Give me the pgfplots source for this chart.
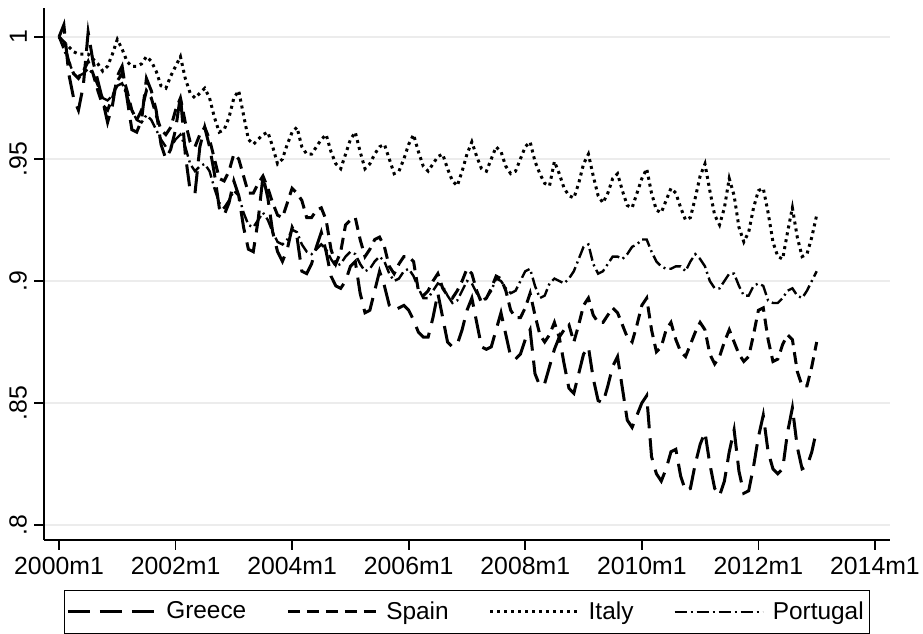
\documentclass[border=0pt]{standalone}
\usepackage{fontspec}
\setmainfont{Liberation Sans}
\usepackage{pgfplots}
\usepackage{pgfplotstable}
\pgfplotsset{compat=1.18}

% m = months since 2000m1
\pgfplotstableread{
m gr sp it pt
0 1.000 1.000 1.000 1.000
1 1.005 0.998 0.998 0.995
2 0.985 0.990 0.996 0.990
3 0.975 0.985 0.994 0.985
4 0.970 0.983 0.993 0.984
5 0.980 0.986 0.993 0.985
6 1.002 0.990 0.993 0.987
7 0.990 0.985 0.991 0.985
8 0.982 0.978 0.989 0.980
9 0.974 0.972 0.986 0.975
10 0.965 0.970 0.988 0.974
11 0.972 0.975 0.993 0.976
12 0.984 0.982 0.999 0.980
13 0.988 0.985 0.995 0.981
14 0.975 0.978 0.990 0.976
15 0.962 0.970 0.988 0.970
16 0.961 0.966 0.988 0.966
17 0.966 0.970 0.989 0.965
18 0.983 0.978 0.992 0.968
19 0.978 0.975 0.990 0.966
20 0.970 0.968 0.986 0.962
21 0.956 0.962 0.980 0.958
22 0.950 0.960 0.979 0.955
23 0.954 0.963 0.984 0.955
24 0.962 0.970 0.988 0.958
25 0.976 0.975 0.992 0.960
26 0.952 0.965 0.983 0.955
27 0.937 0.957 0.977 0.948
28 0.936 0.955 0.975 0.945
29 0.955 0.960 0.977 0.947
30 0.963 0.963 0.979 0.948
31 0.955 0.958 0.975 0.945
32 0.944 0.950 0.967 0.938
33 0.930 0.942 0.961 0.932
34 0.927 0.941 0.962 0.930
35 0.932 0.945 0.967 0.933
36 0.941 0.952 0.975 0.937
37 0.935 0.950 0.978 0.935
38 0.922 0.943 0.968 0.928
39 0.913 0.936 0.958 0.923
40 0.912 0.936 0.956 0.922
41 0.925 0.940 0.958 0.925
42 0.943 0.943 0.960 0.928
43 0.934 0.938 0.961 0.925
44 0.920 0.932 0.955 0.920
45 0.912 0.927 0.948 0.916
46 0.908 0.926 0.950 0.915
47 0.913 0.932 0.956 0.917
48 0.922 0.938 0.961 0.921
49 0.918 0.936 0.963 0.920
50 0.904 0.933 0.955 0.915
51 0.903 0.926 0.952 0.912
52 0.907 0.926 0.952 0.911
53 0.914 0.929 0.955 0.913
54 0.920 0.930 0.958 0.915
55 0.912 0.925 0.960 0.913
56 0.902 0.913 0.953 0.909
57 0.898 0.907 0.948 0.906
58 0.897 0.912 0.946 0.907
59 0.900 0.923 0.952 0.910
60 0.906 0.925 0.958 0.912
61 0.908 0.926 0.961 0.911
62 0.895 0.917 0.953 0.907
63 0.887 0.910 0.946 0.904
64 0.888 0.913 0.948 0.905
65 0.896 0.917 0.952 0.908
66 0.904 0.918 0.955 0.910
67 0.898 0.914 0.956 0.908
68 0.890 0.906 0.950 0.903
69 0.888 0.903 0.944 0.900
70 0.889 0.907 0.945 0.901
71 0.890 0.910 0.950 0.904
72 0.888 0.910 0.956 0.905
73 0.884 0.908 0.960 0.902
74 0.879 0.896 0.953 0.897
75 0.877 0.894 0.947 0.893
76 0.877 0.896 0.945 0.893
77 0.885 0.900 0.948 0.896
78 0.895 0.903 0.951 0.899
79 0.885 0.897 0.952 0.898
80 0.875 0.894 0.946 0.894
81 0.873 0.893 0.941 0.891
82 0.874 0.896 0.939 0.892
83 0.880 0.900 0.945 0.896
84 0.888 0.905 0.952 0.900
85 0.893 0.903 0.957 0.899
86 0.883 0.896 0.951 0.895
87 0.873 0.891 0.946 0.892
88 0.872 0.893 0.945 0.893
89 0.873 0.897 0.950 0.896
90 0.880 0.902 0.955 0.901
91 0.887 0.901 0.953 0.900
92 0.878 0.896 0.947 0.897
93 0.869 0.888 0.944 0.895
94 0.868 0.885 0.945 0.896
95 0.870 0.885 0.950 0.900
96 0.876 0.889 0.955 0.904
97 0.880 0.895 0.957 0.905
98 0.862 0.886 0.949 0.898
99 0.857 0.878 0.944 0.893
100 0.858 0.875 0.940 0.894
101 0.865 0.878 0.939 0.899
102 0.872 0.883 0.949 0.901
103 0.877 0.877 0.944 0.900
104 0.866 0.880 0.938 0.899
105 0.856 0.882 0.935 0.901
106 0.854 0.875 0.934 0.904
107 0.862 0.882 0.940 0.909
108 0.870 0.890 0.948 0.914
109 0.873 0.893 0.952 0.915
110 0.860 0.886 0.943 0.907
111 0.851 0.883 0.935 0.903
112 0.850 0.883 0.932 0.904
113 0.857 0.886 0.936 0.907
114 0.865 0.889 0.942 0.910
115 0.869 0.887 0.944 0.910
116 0.856 0.882 0.937 0.909
117 0.843 0.877 0.931 0.911
118 0.840 0.875 0.930 0.914
119 0.845 0.882 0.936 0.915
120 0.850 0.890 0.942 0.917
121 0.853 0.893 0.946 0.917
122 0.828 0.880 0.936 0.912
123 0.821 0.871 0.929 0.908
124 0.818 0.873 0.928 0.906
125 0.823 0.880 0.933 0.905
126 0.830 0.883 0.938 0.905
127 0.831 0.876 0.936 0.906
128 0.820 0.871 0.930 0.906
129 0.814 0.869 0.925 0.904
130 0.815 0.874 0.926 0.908
131 0.825 0.879 0.934 0.911
132 0.833 0.883 0.943 0.909
133 0.838 0.880 0.948 0.906
134 0.825 0.870 0.937 0.900
135 0.815 0.866 0.927 0.897
136 0.812 0.869 0.923 0.897
137 0.818 0.875 0.930 0.900
138 0.830 0.880 0.942 0.903
139 0.839 0.875 0.935 0.903
140 0.822 0.870 0.922 0.898
141 0.813 0.867 0.916 0.894
142 0.814 0.869 0.920 0.894
143 0.824 0.878 0.930 0.898
144 0.836 0.888 0.937 0.899
145 0.845 0.889 0.938 0.898
146 0.830 0.876 0.928 0.892
147 0.823 0.867 0.916 0.891
148 0.821 0.868 0.910 0.891
149 0.823 0.874 0.909 0.893
150 0.838 0.878 0.920 0.896
151 0.848 0.876 0.930 0.897
152 0.832 0.863 0.918 0.894
153 0.823 0.857 0.910 0.893
154 0.824 0.857 0.911 0.896
155 0.830 0.865 0.918 0.900
156 0.839 0.875 0.927 0.904
}\ratios

\begin{document}
\begin{tikzpicture}
\begin{axis}[
  name=ax,
  scale only axis,
  width=423pt, height=266pt,
  xmin=-3.09, xmax=171.1,
  ymin=0.79385, ymax=1.01189,
  axis x line*=bottom, axis y line*=left,
  axis line style={black, line width=0.8pt},
  tick align=outside, major tick length=5pt,
  tick style={black, line width=0.8pt},
  xtick={0,24,48,72,96,120,144,168},
  xticklabels={2000m1,2002m1,2004m1,2006m1,2008m1,2010m1,2012m1,2014m1},
  ytick={0.8,0.85,0.9,0.95,1},
  yticklabels={.8,.85,.9,.95,1},
  yticklabel style={rotate=90, anchor=south},
  ticklabel style={font=\fontsize{12.4}{14.5}\selectfont},
  /pgf/number format/assume math mode=true,
  ymajorgrids, grid style={gray!15, line width=0.8pt},
  legend columns=4,
  legend cell align=left,
  legend style={at={(0.5,-0.094)}, anchor=north, draw=black, line width=0.6pt,
    inner xsep=1pt, inner ysep=3.5pt,
    font=\fontsize{12.2}{14.2}\selectfont,
    /tikz/every odd column/.append style={column sep=2.5pt},
    /tikz/every even column/.append style={column sep=18pt}},
  legend image code/.code={\draw[#1] (0pt,0pt) -- (44pt,0pt);},
]
\addplot[black, line width=1.5pt, dash pattern=on 11pt off 5pt] table[x=m, y=gr] {\ratios};
\addlegendentry{Greece}
\addplot[black, line width=1.5pt, dash pattern=on 6pt off 3.5pt] table[x=m, y=sp] {\ratios};
\addlegendentry{Spain}
\addplot[black, line width=1.5pt, dash pattern=on 1.5pt off 2pt] table[x=m, y=it] {\ratios};
\addlegendentry{Italy}
\addplot[black, line width=1.2pt, dash pattern=on 6pt off 2pt on 1pt off 2pt] table[x=m, y=pt] {\ratios};
\addlegendentry{Portugal}
\end{axis}
\pgfresetboundingbox
\path[use as bounding box] ([xshift=-22pt,yshift=-47pt]ax.south west) rectangle ([xshift=16.5pt,yshift=4pt]ax.north east);
\end{tikzpicture}
\end{document}
